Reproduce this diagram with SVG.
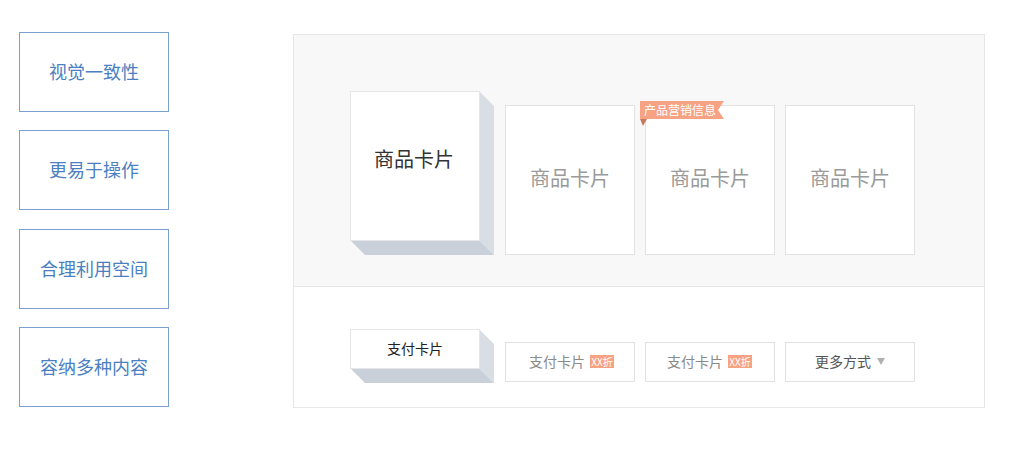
<svg xmlns="http://www.w3.org/2000/svg" width="1010" height="463" viewBox="0 0 1010 463">
<style>
text{font-family:"Noto Sans CJK SC","Noto Sans",sans-serif;text-anchor:middle;dominant-baseline:central}
.lb{fill:#fff;stroke:#7b9fd0;stroke-width:1}
.lt{fill:#4b7fc2;font-size:18px}
.card{fill:#fff;stroke:#e2e2e2;stroke-width:1}
.ct{fill:#9a9a9a;font-size:20px}
.side{fill:#d9dee5}
.bot{fill:#c9d0da}
.front{fill:#fff;stroke:#e6e6e6;stroke-width:1}
.pt{fill:#8a8a8a;font-size:14px}
.tag{fill:#f7a283}
.tt{fill:#fff;font-size:10px}
</style>
<rect width="1010" height="463" fill="#fff"/>
<g id="left-1"><rect class="lb" x="19.5" y="32.5" width="149" height="79"/><text class="lt" x="94" y="70.5">视觉一致性</text></g>
<g id="left-2"><rect class="lb" x="19.5" y="130.5" width="149" height="79"/><text class="lt" x="94" y="168.5">更易于操作</text></g>
<g id="left-3"><rect class="lb" x="19.5" y="229.5" width="149" height="79"/><text class="lt" x="94" y="267.5">合理利用空间</text></g>
<g id="left-4"><rect class="lb" x="19.5" y="327.5" width="149" height="79"/><text class="lt" x="94" y="365.5">容纳多种内容</text></g>
<g id="panel">
<rect x="293.5" y="34.5" width="691" height="373" fill="#fff" stroke="#e6e6e6"/>
<rect x="294" y="35" width="690" height="251" fill="#f8f8f8"/>
<line x1="294" y1="286.5" x2="984" y2="286.5" stroke="#e6e6e6"/>
</g>
<g id="product-card-main">
<polygon class="side" points="479,91 494,106 494,255 479,240"/>
<polygon class="bot" points="350,240 479,240 494,255 365,255"/>
<rect class="front" x="350.5" y="91.5" width="129" height="149"/>
<text x="414" y="158" fill="#333" font-size="20">商品卡片</text>
</g>
<g id="product-card-2"><rect class="card" x="505.5" y="105.5" width="129" height="149"/><text class="ct" x="570" y="177">商品卡片</text></g>
<g id="product-card-3"><rect class="card" x="645.5" y="105.5" width="129" height="149"/><text class="ct" x="710" y="177">商品卡片</text>
<polygon points="640,119 647,119 643,126" fill="#c47b5f"/>
<polygon class="tag" points="640,101 724,101 718,110 724,119 640,119"/>
<text x="680" y="109.5" fill="#fff" font-size="12">产品营销信息</text>
</g>
<g id="product-card-4"><rect class="card" x="785.5" y="105.5" width="129" height="149"/><text class="ct" x="850" y="177">商品卡片</text></g>
<g id="pay-card-main">
<polygon class="side" points="479,329 494,344 494,383 479,368"/>
<polygon class="bot" points="350,368 479,368 494,383 365,383"/>
<rect class="front" x="350.5" y="329.5" width="129" height="39"/>
<text x="415" y="348" fill="#222" font-size="14">支付卡片</text>
</g>
<g id="pay-card-2"><rect class="card" x="505.5" y="342.5" width="129" height="39"/><text class="pt" x="557" y="361">支付卡片</text>
<rect class="tag" x="590" y="355" width="24" height="13"/><text class="tt" x="602" y="361">XX折</text></g>
<g id="pay-card-3"><rect class="card" x="645.5" y="342.5" width="129" height="39"/><text class="pt" x="695" y="361">支付卡片</text>
<rect class="tag" x="728" y="355" width="24" height="13"/><text class="tt" x="740" y="361">XX折</text></g>
<g id="pay-more"><rect class="card" x="785.5" y="342.5" width="129" height="39"/><text x="843" y="361" fill="#555" font-size="14">更多方式</text>
<polygon points="877,358 885,358 881,365" fill="#b0b0b0"/></g>
</svg>
